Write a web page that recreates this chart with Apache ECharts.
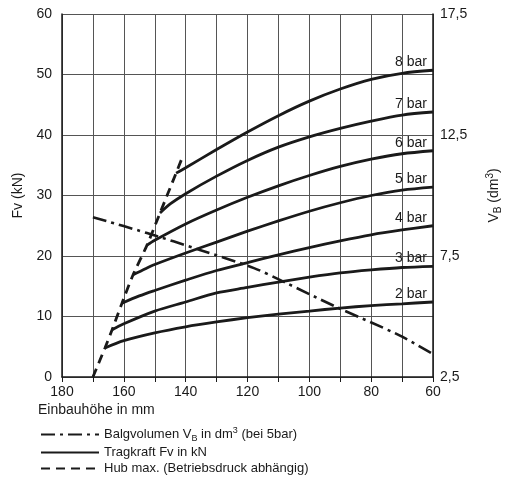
<!DOCTYPE html>
<html>
<head>
<meta charset="utf-8">
<script src="https://cdn.jsdelivr.net/npm/echarts@6/dist/echarts.min.js"></script>
<style>
  html, body { margin: 0; padding: 0; background: #fff; }
  #main { width: 508px; height: 485px; }
</style>
</head>
<body>
<div id="main"></div>
<script>
// Einbauhoehe (mm) / Tragkraft Fv (kN) per pressure
var bar2 = [[166.1, 4.8], [160, 6.0], [150, 7.3], [140, 8.3], [130, 9.1], [120, 9.8], [110, 10.4], [100, 10.9], [90, 11.4], [80, 11.8], [70, 12.1], [60, 12.4]]
var bar3 = [[163.8, 7.8], [160, 8.8], [150, 10.9], [140, 12.4], [130, 13.9], [120, 14.8], [110, 15.7], [100, 16.5], [90, 17.2], [80, 17.7], [70, 18.1], [60, 18.3]]
var bar4 = [[160.6, 12.2], [155, 13.4], [150, 14.3], [140, 16.0], [130, 17.6], [120, 18.9], [110, 20.2], [100, 21.4], [90, 22.5], [80, 23.5], [70, 24.3], [60, 25.0]]
var bar5 = [[157, 16.9], [153, 17.9], [150, 18.6], [140, 20.5], [130, 22.3], [120, 24.1], [110, 25.8], [100, 27.4], [90, 28.8], [80, 30.0], [70, 30.9], [60, 31.4]]
var bar6 = [[152.5, 21.8], [150, 22.6], [140, 25.3], [130, 27.6], [120, 29.7], [110, 31.6], [100, 33.3], [90, 34.8], [80, 36.0], [70, 36.9], [60, 37.4]]
var bar7 = [[148.3, 27.1], [145, 28.6], [140, 30.3], [130, 33.2], [120, 35.8], [110, 38.0], [100, 39.7], [90, 41.1], [80, 42.3], [70, 43.3], [60, 43.8]]
var bar8 = [[143.1, 33.7], [140, 34.6], [130, 37.6], [120, 40.5], [110, 43.2], [100, 45.6], [90, 47.6], [80, 49.2], [70, 50.2], [60, 50.7]]
var barNames = ['2 bar', '3 bar', '4 bar', '5 bar', '6 bar', '7 bar', '8 bar']
var barData = [bar2, bar3, bar4, bar5, bar6, bar7, bar8]

// Hub max. (dashed)
var hub = [[170, 0], [166.1, 4.8], [163.8, 7.8], [160.6, 12.2], [157, 16.9], [152.5, 21.8], [148.3, 27.1], [143.1, 33.7], [141, 36.4]]
// Balgvolumen VB (dm3) at 5 bar, right axis
var vol = [[170, 9.1], [152.5, 8.45], [135.4, 7.75], [117.9, 7.0], [108.2, 6.43], [91.4, 5.4], [71, 4.23], [60, 3.45]]

var FONT = 'Liberation Sans'
var INK = '#1a1a1a'

var LEG_VOL = 'Balgvolumen'
var LEG_F = 'Tragkraft'
var LEG_HUB = 'Hub'

var richText = {
  n: { fontSize: 13, lineHeight: 17, color: INK, fontFamily: FONT },
  sub: { fontSize: 9, lineHeight: 8, verticalAlign: 'bottom', color: INK, fontFamily: FONT },
  sup: { fontSize: 9, lineHeight: 8, verticalAlign: 'top', color: INK, fontFamily: FONT }
}

var series = []
series.push({
  name: LEG_VOL,
  type: 'line',
  yAxisIndex: 1,
  data: vol,
  smooth: 0.3,
  symbol: 'none',
  color: INK,
  lineStyle: { color: INK, width: 2.6, type: [14, 5, 3, 5] },
  z: 3
})
for (var i = 0; i < barData.length; i++) {
  (function (idx) {
    var last = barData[idx].length - 1
    series.push({
      name: LEG_F,
      type: 'line',
      data: barData[idx],
      smooth: 0.3,
      symbol: 'circle',
      symbolSize: 0,
      showSymbol: true,
      color: INK,
      lineStyle: { color: INK, width: 2.8 },
      itemStyle: { color: INK },
      label: {
        show: true,
        position: 'top',
        align: 'right',
        distance: 1,
        offset: [-6, 0],
        fontFamily: FONT,
        fontSize: 14,
        color: INK,
        formatter: function (p) {
          return p.dataIndex === last ? barNames[idx] : ''
        }
      },
      z: 4
    })
  })(i)
}
series.push({
  name: LEG_HUB,
  type: 'line',
  data: hub,
  smooth: 0.3,
  symbol: 'none',
  color: INK,
  lineStyle: { color: INK, width: 2.8, type: [9, 6] },
  z: 5
})

var chart = echarts.init(document.getElementById('main'))
chart.setOption({
  animation: false,
  backgroundColor: '#fff',
  textStyle: { fontFamily: FONT },
  grid: { left: 62, right: 75, top: 14, bottom: 108, containLabel: false, outerBoundsMode: 'none' },
  xAxis: {
    type: 'value',
    min: 60,
    max: 180,
    interval: 10,
    inverse: true,
    axisLine: { show: true, lineStyle: { color: INK, width: 1.5 } },
    axisTick: { show: true, length: 5, lineStyle: { color: INK } },
    axisLabel: {
      margin: 8,
      fontSize: 14,
      color: INK,
      fontFamily: FONT,
      formatter: function (v) { return v % 20 === 0 ? String(v) : '' }
    },
    splitLine: { show: true, lineStyle: { color: '#555', width: 1 } }
  },
  yAxis: [
    {
      type: 'value',
      min: 0,
      max: 60,
      interval: 10,
      name: 'Fv (kN)',
      nameLocation: 'middle',
      nameRotate: 90,
      nameGap: 23,
      nameTextStyle: { fontSize: 14, color: INK, fontFamily: FONT },
      axisLine: { show: true, lineStyle: { color: INK, width: 1.5 } },
      axisTick: { show: false },
      axisLabel: { margin: 10, fontSize: 14, color: INK, fontFamily: FONT },
      splitLine: { show: true, lineStyle: { color: '#555', width: 1 } }
    },
    {
      type: 'value',
      position: 'right',
      min: 2.5,
      max: 17.5,
      interval: 5,
      name: '{n|V}{sub|B}{n| (dm}{sup|3}{n|)}',
      nameLocation: 'middle',
      nameRotate: 90,
      nameGap: 52,
      nameTextStyle: { fontSize: 14, color: INK, fontFamily: FONT, rich: {
        n: { fontSize: 14, lineHeight: 18, color: INK, fontFamily: FONT },
        sub: { fontSize: 10, lineHeight: 9, verticalAlign: 'bottom', color: INK, fontFamily: FONT },
        sup: { fontSize: 10, lineHeight: 9, verticalAlign: 'top', color: INK, fontFamily: FONT }
      } },
      axisLine: { show: true, lineStyle: { color: INK, width: 1.5 } },
      axisTick: { show: false },
      axisLabel: {
        margin: 7,
        fontSize: 14,
        color: INK,
        fontFamily: FONT,
        formatter: function (v) { return v.toFixed(1).replace('.', ',') }
      },
      splitLine: { show: false }
    }
  ],
  graphic: [
    {
      type: 'text',
      left: 38,
      top: 403,
      style: { text: 'Einbauhöhe in mm', fontSize: 14, fill: INK, fontFamily: FONT }
    }
  ],
  legend: {
    orient: 'vertical',
    left: 40,
    top: 426,
    padding: 0,
    itemGap: 3,
    itemWidth: 58,
    itemHeight: 14,
    itemStyle: { color: 'rgba(0,0,0,0)', borderColor: 'rgba(0,0,0,0)', borderWidth: 0 },
    data: [LEG_VOL, LEG_F, LEG_HUB],
    textStyle: { rich: richText },
    formatter: function (name) {
      if (name === LEG_VOL) return '{n|Balgvolumen V}{sub|B}{n| in dm}{sup|3}{n| (bei 5bar)}'
      if (name === LEG_F) return '{n|Tragkraft Fv in kN}'
      return '{n|Hub max. (Betriebsdruck abhängig)}'
    }
  },
  series: series
})
</script>
</body>
</html>
